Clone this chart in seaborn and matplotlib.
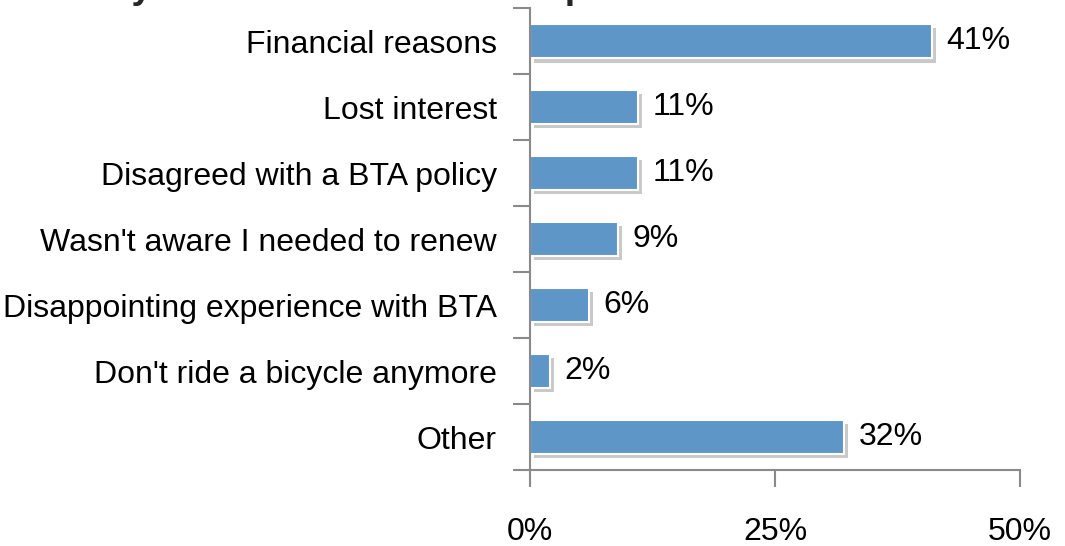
import matplotlib
matplotlib.use("Agg")
import matplotlib.pyplot as plt
import matplotlib.patheffects as pe
from matplotlib.ticker import FixedLocator
import seaborn as sns
import pandas as pd
import numpy as np

# Dados
motivos = ["Financial reasons", "Lost interest", "Disagreed with a BTA policy",
           "Wasn't aware I needed to renew", "Disappointing experience with BTA",
           "Don't ride a bicycle anymore", "Other"]
percentuais = [41, 11, 11, 9, 6, 2, 32]
xticks = [0, 25, 50]
titulo = "Why Not Renew Membership"

df = pd.DataFrame({"Motivo": motivos, "Pct": percentuais})

sns.set_style("white")
plt.rcParams['font.family'] = ['Liberation Sans', 'DejaVu Sans']

fig = plt.figure(figsize=(10.65, 5.46), dpi=100)
ax = fig.add_axes([0.4977, 0.139, 0.46, 0.846])

sns.barplot(data=df, y="Motivo", x="Pct", color="#5F96C8", saturation=1, orient="h",
            width=0.52, edgecolor="white", linewidth=1.5, ax=ax)

# Sombra nas barras
for p in ax.patches:
    p.set_path_effects([pe.SimplePatchShadow(offset=(3, -3), shadow_rgbFace="#7a7a7a", alpha=0.4),
                        pe.Normal()])

# Rótulos de porcentagem
for i, v in enumerate(percentuais):
    ax.text(v + 1.5, i, f"{v}%", va="center", ha="left", fontsize=23, color="black")

ax.set_xlim(0, 50)
ax.set_ylim(len(motivos) - 0.5, -0.5)
ax.set_xticks(xticks)
ax.set_xticklabels([f"{t}%" for t in xticks], fontsize=23, color="black")
ax.tick_params(axis="x", length=12, width=1.5, color="#8a8a8a", pad=22, direction="out", bottom=True)
ax.tick_params(axis="y", which="major", length=0, pad=24, labelsize=23, labelcolor="black")
ax.yaxis.set_minor_locator(FixedLocator(np.arange(-0.5, len(motivos), 1)))
ax.tick_params(axis="y", which="minor", length=12, width=1.5, color="#8a8a8a", left=True)
ax.set_xlabel("")
ax.set_ylabel("")

sns.despine(ax=ax, top=True, right=True)
for s in ["left", "bottom"]:
    ax.spines[s].set_color("#8a8a8a")
    ax.spines[s].set_linewidth(1.5)

# Título cortado no topo (só as pernas das letras aparecem)
fig.text(0.31, 1.004, titulo, ha="center", va="baseline", fontsize=27, fontweight="bold")

fig.savefig("out.png", dpi=100)
